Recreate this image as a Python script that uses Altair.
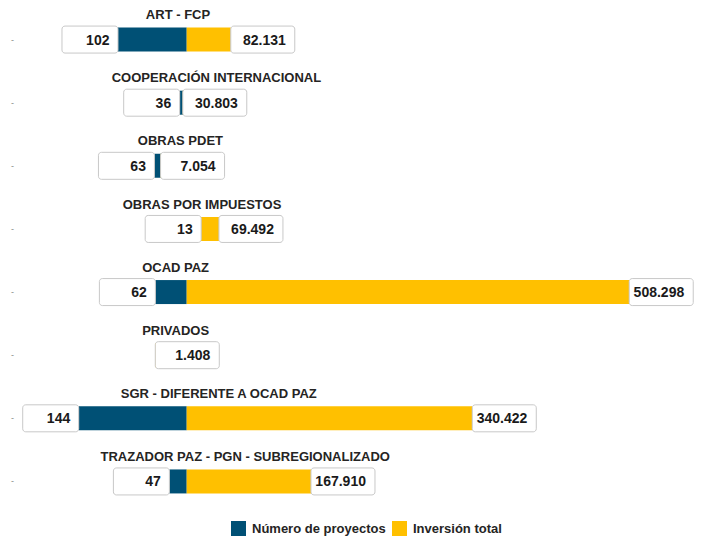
import altair as alt
import pandas as pd

# ---- data ----
categorias = [
    "ART - FCP",
    "COOPERACIÓN INTERNACIONAL",
    "OBRAS PDET",
    "OBRAS POR IMPUESTOS",
    "OCAD PAZ",
    "PRIVADOS",
    "SGR - DIFERENTE A OCAD PAZ",
    "TRAZADOR PAZ - PGN - SUBREGIONALIZADO",
]
proyectos = [102, 36, 63, 13, 62, None, 144, 47]
inversion = [82131, 30803, 7054, 69492, 508298, 1408, 340422, 167910]
series = ["Número de proyectos", "Inversión total"]
colores = ["#005075", "#FFC000"]

# axis minimum of each half (the source axis does not start at zero)
MIN_PROY = 28.5
MIN_INV = 35.0

# ---- layout constants ----
W, H = 686, 505
PAD_TOP = 5
YS = -PAD_TOP  # shift every mark back up by the top padding
PX_PER_UNIT = 0.935
ZERO_PX = 178.7
X_MIN = -ZERO_PX / PX_PER_UNIT
X_MAX = X_MIN + W / PX_PER_UNIT
FONT = "Liberation Sans"


def fmt_es(v):
    return f"{v:,.0f}".replace(",", ".")


rows = []
for c, p, v in zip(categorias, proyectos, inversion):
    if p is not None:
        rows.append(dict(cat=c, serie=series[0], end=-(p - MIN_PROY), zero=0.0, label=fmt_es(p)))
    rows.append(dict(cat=c, serie=series[1], end=v / 1000 - MIN_INV, zero=0.0, label=fmt_es(v)))
df = pd.DataFrame(rows)

titles = pd.DataFrame({"cat": categorias})
# title centre follows the text length as in the source
titles["tx"] = X_MIN + (148.4 + 2.4 * titles["cat"].str.len()) / PX_PER_UNIT

xscale = alt.Scale(domain=[X_MIN, X_MAX], nice=False, zero=False)
yenc = alt.Y("cat:N", sort=categorias, axis=None,
             scale=alt.Scale(paddingInner=0, paddingOuter=0))

base = alt.Chart(df)

bars = base.mark_bar(height=24, yOffset=YS).encode(
    x=alt.X("end:Q", scale=xscale, axis=None),
    x2="zero:Q",
    y=yenc,
    color=alt.Color(
        "serie:N",
        scale=alt.Scale(domain=series, range=colores),
        legend=alt.Legend(
            orient="none", legendX=223, legendY=513 - PAD_TOP, direction="horizontal",
            title=None, symbolType="square", symbolSize=225, symbolStrokeWidth=0,
            symbolOpacity=1,
            labelFontSize=13, labelFontWeight="bold", labelColor="#252423",
            labelFont=FONT, labelOffset=6, columnPadding=6, padding=0,
        ),
    ),
)

box_style = dict(height=27, fill="white", stroke="#C8C8C8", strokeWidth=1,
                 cornerRadius=3, yOffset=YS)

left_boxes = base.transform_filter(alt.datum.serie == series[0]).mark_bar(
    xOffset=-56, **box_style
).encode(x=alt.X("end:Q", scale=xscale, axis=None), x2="end:Q", y=yenc)

right_boxes = base.transform_filter(alt.datum.serie == series[1]).mark_bar(
    x2Offset=64, **box_style
).encode(x=alt.X("end:Q", scale=xscale, axis=None), x2="end:Q", y=yenc)

lab_style = dict(fontSize=14, fontWeight="bold", color="#1a1a1a", font=FONT,
                 baseline="middle", align="right")

left_labels = base.transform_filter(alt.datum.serie == series[0]).mark_text(
    dx=-8.5, dy=1 + YS, **lab_style
).encode(x=alt.X("end:Q", scale=xscale, axis=None), y=yenc, text="label:N")

right_labels = base.transform_filter(alt.datum.serie == series[1]).mark_text(
    dx=55, dy=1 + YS, **lab_style
).encode(x=alt.X("end:Q", scale=xscale, axis=None), y=yenc, text="label:N")

title_text = alt.Chart(titles).mark_text(
    fontSize=13, fontWeight="bold", color="#252423", font=FONT,
    align="center", baseline="middle", dy=-24.4 + YS,
).encode(x=alt.X("tx:Q", scale=xscale, axis=None), y=yenc, text="cat:N")

dashes = alt.Chart(titles).mark_text(
    text="-", fontSize=9, color="#8a8a8a", font=FONT, align="left",
    baseline="middle", dy=YS,
).encode(x=alt.value(3), y=yenc)

chart = alt.layer(
    bars, left_boxes, right_boxes, left_labels, right_labels, title_text, dashes
).properties(
    width=W, height=H,
    autosize=alt.AutoSizeParams(type="none"),
    padding={"left": 0, "right": 0, "top": PAD_TOP, "bottom": 25},
).configure(font=FONT).configure_view(stroke=None, strokeWidth=0)

chart.save("out.html", embed_options={"renderer": "svg", "actions": False})
